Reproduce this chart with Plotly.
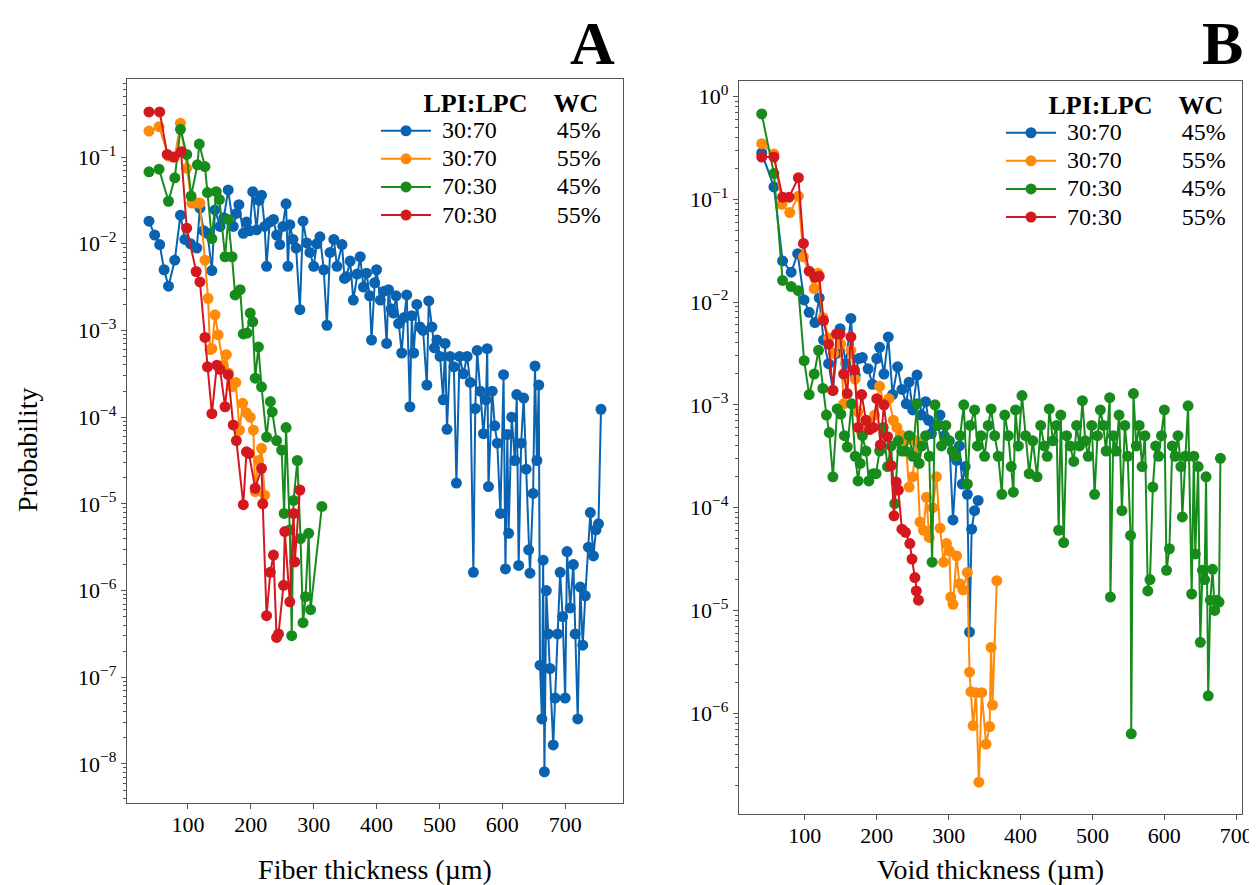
import plotly.graph_objects as go

# ---------------- data (x in µm, y given as log10(probability)) ----------------
series_names = ["30:70", "30:70", "70:30", "70:30"]
series_wc = ["45%", "55%", "45%", "55%"]
colors = ["#0a63b1", "#ff8a0a", "#178c1c", "#d3181f"]

# Panel A : Fiber thickness
a_blue_x = [38, 47, 55, 62, 69, 79, 88, 95, 104, 114, 119, 125, 131, 138, 143, 151, 157, 164, 172, 177,
            181, 188, 193, 198, 203, 209, 213, 217, 222, 225, 230, 236, 241, 246, 251, 256, 259, 262, 267, 272,
            278, 283, 289, 294, 300, 305, 310, 316, 321, 326, 332, 337, 345, 349, 352, 358, 363, 369, 374, 379,
            384, 389, 392, 397, 400, 406, 411, 416, 419, 423, 427, 431, 435, 440, 444, 448, 453, 456, 459, 464,
            469, 474, 480, 483, 488, 492, 496, 501, 506, 509, 512, 517, 523, 527, 532, 538, 544, 549, 554, 557,
            560, 565, 570, 574, 576, 578, 584, 588, 592, 597, 602, 605, 608, 610, 615, 620, 623, 626, 630, 634,
            638, 642, 644, 649, 652, 655, 658, 660, 663, 665, 667, 670, 673, 676, 681, 684, 688, 692, 696, 700,
            703, 708, 713, 716, 720, 724, 728, 732, 737, 740, 745, 749, 753, 757]
a_blue_logy = [-1.74, -1.90, -2.01, -2.30, -2.49, -2.19, -1.67, -1.95, -2.00, -2.05, -1.59, -1.85, -1.88, -2.31, -1.61, -1.80, -1.70, -1.38, -1.80, -1.65,
               -1.55, -1.88, -1.75, -1.85, -1.40, -1.84, -1.50, -1.44, -1.80, -2.26, -1.75, -1.72, -1.90, -2.01, -1.80, -1.54, -2.26, -1.78, -1.95, -2.05,
               -2.76, -1.74, -1.99, -2.10, -2.26, -2.00, -1.92, -2.30, -2.94, -2.10, -1.95, -2.26, -2.01, -2.40, -2.38, -2.20, -2.65, -2.35, -2.15, -2.50,
               -2.34, -2.60, -3.11, -2.45, -2.30, -2.65, -2.55, -3.15, -2.53, -2.75, -2.80, -2.60, -2.92, -3.26, -2.85, -2.59, -3.88, -2.83, -3.26, -2.70,
               -2.96, -3.00, -3.63, -2.66, -2.96, -3.20, -3.11, -3.30, -3.80, -3.15, -4.14, -3.30, -3.42, -4.76, -3.30, -3.50, -3.30, -3.60, -5.79, -3.90,
               -3.23, -3.70, -4.19, -3.80, -3.21, -4.80, -3.70, -4.10, -4.30, -5.11, -3.51, -5.75, -4.20, -5.34, -4.00, -4.50, -3.74, -5.71, -4.30, -3.78,
               -4.60, -5.53, -5.80, -4.88, -3.41, -4.50, -3.63, -6.86, -7.48, -5.65, -8.09, -6.00, -6.50, -6.90, -7.78, -7.24, -6.50, -5.79, -6.30, -7.24,
               -5.55, -6.20, -5.70, -6.50, -7.48, -5.96, -6.63, -6.06, -5.50, -5.10, -5.60, -5.30, -5.23, -3.91]

a_orange_x = [38, 54, 69, 79, 88, 98, 106, 114, 119, 127, 132, 135, 138, 143, 148, 156, 161, 164, 170, 176,
              182, 187, 193, 199, 204, 207, 212, 217, 222]
a_orange_logy = [-0.70, -0.65, -0.99, -1.00, -0.61, -1.13, -1.53, -1.53, -1.53, -2.19, -2.63, -3.22, -3.21, -2.82, -3.05, -3.40, -3.28, -3.49, -3.65, -3.60,
                 -4.15, -3.84, -3.95, -4.00, -4.15, -4.86, -4.50, -4.36, -4.90]

a_green_x = [38, 54, 69, 79, 88, 98, 105, 115, 118, 127, 131, 138, 145, 150, 159, 164, 170, 175, 183, 188,
             194, 199, 203, 207, 212, 217, 225, 231, 234, 241, 249, 253, 256, 262, 265, 268, 274, 279, 283, 287,
             292, 295, 313]
a_green_logy = [-1.17, -1.14, -1.51, -1.24, -0.68, -0.97, -1.45, -1.09, -0.85, -1.11, -1.41, -1.94, -1.40, -1.49, -2.15, -1.72, -2.15, -2.59, -2.53, -3.04,
                -3.03, -2.80, -2.90, -3.55, -3.19, -3.65, -4.23, -3.82, -3.94, -4.27, -4.38, -5.11, -4.12, -5.30, -6.52, -4.96, -4.50, -5.40, -6.37, -6.07,
                -5.34, -6.22, -5.03]

a_red_x = [38, 55, 67, 77, 89, 98, 113, 119, 127, 131, 138, 146, 151, 159, 164, 172, 177, 188, 193, 197,
           207, 217, 219, 225, 231, 236, 241, 244, 252, 254, 262, 268, 270, 278]
a_red_logy = [-0.48, -0.48, -0.97, -1.00, -0.94, -1.82, -2.32, -2.44, -3.08, -3.42, -3.96, -3.40, -3.45, -3.88, -3.51, -4.09, -4.27, -5.01, -4.40, -4.42,
              -4.82, -4.59, -5.00, -6.29, -5.79, -5.59, -6.54, -6.50, -5.94, -5.32, -6.13, -5.11, -5.67, -4.84]

# Panel B : Void thickness
b_blue_x = [40, 57, 69, 81, 90, 99, 106, 114, 120, 126, 133, 139, 144, 149, 157, 164, 170, 175, 180, 188,
            194, 200, 204, 210, 216, 222, 229, 235, 241, 245, 250, 256, 262, 268, 272, 276, 282, 288, 294, 301,
            306, 311, 315, 319, 323, 326, 329, 332, 336, 341]
b_blue_logy = [-0.55, -0.88, -1.60, -1.71, -1.53, -1.98, -2.10, -2.20, -1.96, -2.37, -2.60, -2.86, -2.50, -2.26, -2.60, -2.16, -2.71, -2.55, -2.54, -2.65,
               -2.80, -2.55, -2.44, -2.70, -2.34, -2.90, -2.63, -2.85, -2.99, -2.78, -3.05, -2.71, -3.10, -2.97, -3.15, -3.28, -3.20, -3.10, -3.30, -3.35,
               -4.12, -3.54, -3.40, -3.77, -3.60, -3.87, -5.21, -4.21, -4.03, -3.93]

b_orange_x = [40, 57, 68, 79, 91, 98, 113, 118, 125, 133, 140, 150, 154, 164, 170, 174, 179, 185, 190, 197,
              204, 210, 217, 223, 228, 233, 240, 245, 250, 255, 260, 265, 269, 273, 278, 283, 288, 293, 297, 301,
              303, 306, 311, 315, 320, 326, 329, 331, 334, 338, 342, 346, 352, 357, 359, 361, 367]
b_orange_logy = [-0.46, -0.56, -1.05, -1.13, -0.97, -1.56, -1.87, -1.72, -2.15, -2.35, -2.50, -2.41, -2.99, -2.47, -2.75, -3.07, -3.27, -3.15, -3.20, -3.10,
                 -2.82, -3.00, -2.94, -3.15, -3.22, -3.29, -3.35, -3.80, -3.70, -3.35, -4.14, -4.22, -3.90, -4.29, -4.00, -3.70, -4.20, -4.53, -4.35, -4.42,
                 -4.87, -4.94, -4.47, -4.74, -4.80, -4.63, -5.60, -5.79, -6.12, -5.80, -6.67, -5.80, -6.30, -6.13, -5.36, -5.92, -4.71]

b_green_x = [40, 57, 69, 81, 91, 99, 106, 113, 119, 125, 130, 134, 139, 145, 150, 155, 159, 165, 170, 174,
             177, 180, 185, 189, 195, 199, 204, 209, 215, 220, 225, 230, 235, 240, 245, 250, 256, 259, 263, 268,
             273, 277, 281, 285, 290, 296, 300, 305, 310, 316, 321, 326, 330, 336, 340, 345, 350, 355, 359, 364,
             369, 374, 378, 383, 387, 390, 393, 397, 402, 407, 412, 417, 423, 428, 433, 437, 440, 445, 450, 453,
             456, 460, 464, 469, 474, 478, 482, 486, 490, 494, 499, 503, 507, 511, 515, 519, 524, 525, 529, 533,
             537, 541, 545, 549, 553, 554, 557, 561, 565, 569, 573, 577, 580, 584, 588, 592, 596, 600, 603, 607,
             611, 615, 619, 623, 625, 629, 633, 638, 641, 643, 647, 650, 653, 656, 658, 661, 664, 667, 670, 673,
             676, 678]
b_green_logy = [-0.17, -0.75, -1.79, -1.85, -1.89, -2.57, -2.90, -2.70, -2.47, -2.84, -3.10, -3.27, -3.70, -3.04, -3.09, -3.30, -3.41, -2.99, -3.50, -3.74,
                -3.57, -3.30, -3.45, -3.74, -3.67, -3.67, -3.45, -3.22, -3.60, -3.40, -3.96, -3.35, -3.45, -3.45, -3.30, -3.50, -2.99, -3.57, -3.40, -3.30,
                -3.50, -4.53, -3.00, -3.20, -3.40, -3.20, -3.35, -3.45, -3.50, -3.30, -3.00, -3.77, -3.20, -3.05, -3.40, -3.30, -3.50, -3.20, -3.04, -3.30,
                -3.50, -3.87, -3.10, -3.30, -3.60, -3.85, -3.05, -3.40, -2.91, -3.30, -3.67, -3.35, -3.70, -3.20, -3.40, -3.50, -3.04, -3.35, -3.20, -4.22,
                -3.10, -4.34, -3.30, -3.40, -3.55, -3.20, -3.40, -2.96, -3.35, -3.50, -3.20, -3.87, -3.30, -3.05, -3.20, -3.45, -2.93, -4.87, -3.30, -3.45,
                -3.10, -4.03, -3.20, -3.50, -4.27, -6.20, -2.89, -3.40, -3.20, -3.60, -3.30, -4.81, -4.70, -3.80, -3.40, -3.50, -3.30, -3.05, -4.61, -4.40,
                -3.40, -3.50, -3.30, -3.60, -4.09, -3.50, -3.01, -4.84, -3.50, -4.45, -3.60, -5.31, -4.61, -4.70, -3.70, -5.83, -4.90, -4.60, -5.00, -4.90,
                -4.92, -3.52]

b_red_x = [40, 57, 69, 78, 91, 98, 106, 114, 120, 126, 133, 139, 144, 149, 154, 159, 164, 169, 174, 179,
           185, 190, 195, 200, 205, 210, 215, 220, 224, 227, 230, 235, 240, 246, 249, 253, 255, 258]
b_red_logy = [-0.59, -0.59, -0.98, -0.98, -0.79, -1.43, -1.70, -1.76, -1.75, -2.18, -2.41, -2.86, -2.31, -2.31, -2.70, -2.89, -2.34, -2.66, -3.22, -2.90,
              -3.15, -3.24, -3.22, -2.94, -3.39, -3.00, -3.31, -3.59, -4.08, -3.75, -3.83, -4.21, -4.24, -4.35, -4.50, -4.68, -4.81, -4.90]

a_x_ticks = [100, 200, 300, 400, 500, 600, 700]
b_x_ticks = [100, 200, 300, 400, 500, 600, 700]
a_y_exponents = [-1, -2, -3, -4, -5, -6, -7, -8]
b_y_exponents = [0, -1, -2, -3, -4, -5, -6]

FONT = "Liberation Serif"
NB = "\u00a0"

# page body has an 8 px margin: figure is laid out in screen pixels minus that offset
W, H, OFF = 1249, 877, 8


def px(x):
    return (x - OFF) / W


def py(y):
    return 1 - (y - OFF) / H


panel_a = [(a_blue_x, a_blue_logy), (a_orange_x, a_orange_logy), (a_green_x, a_green_logy), (a_red_x, a_red_logy)]
panel_b = [(b_blue_x, b_blue_logy), (b_orange_x, b_orange_logy), (b_green_x, b_green_logy), (b_red_x, b_red_logy)]

fig = go.Figure()
for panel, (xa, ya, leg) in [(panel_a, ("x", "y", "legend")), (panel_b, ("x2", "y2", "legend2"))]:
    for i, (xs, ly) in enumerate(panel):
        fig.add_trace(go.Scatter(
            x=xs, y=[10 ** v for v in ly], mode="lines+markers",
            name='<span style="font-size:24px">' + NB + series_names[i] + NB * 10 + series_wc[i] + "</span>",
            line=dict(color=colors[i], width=2),
            marker=dict(color=colors[i], size=11),
            xaxis=xa, yaxis=ya, legend=leg,
        ))


def minor_vals(lo, hi):
    out = []
    for e in range(lo, hi + 1):
        for m in range(2, 10):
            out.append(m * 10.0 ** e)
    return out


def sup_label(e):
    s = str(e).replace("-", "\u2212")
    return "10<sup>" + s + "</sup>"


axis_common = dict(showline=True, mirror=True, linecolor="#555555", linewidth=1.3,
                   showgrid=False, zeroline=False, ticks="outside", ticklen=5, tickwidth=1,
                   tickcolor="#555555", tickfont=dict(family=FONT, size=22, color="black"))

legend_title = '<span style="font-size:26px"><b>' + NB * 7 + "LPI:LPC" + NB * 4 + "WC</b></span>"
legend_common = dict(xanchor="left", yanchor="top", bgcolor="rgba(255,255,255,0)", borderwidth=0,
                     font=dict(family=FONT, size=19.3, color="black"), tracegroupgap=0, itemwidth=50,
                     title=dict(text=legend_title, font=dict(family=FONT, size=29, color="black"), side="top"))

fig.update_layout(
    width=W, height=H, autosize=False,
    margin=dict(l=0, r=0, t=0, b=0, autoexpand=False),
    paper_bgcolor="white", plot_bgcolor="white",
    font=dict(family=FONT, color="black"),
    xaxis=dict(domain=[px(127), px(623)], range=[3, 792], anchor="y",
               tickvals=a_x_ticks, automargin=False, ticklabelstandoff=-4, ticklabeloverflow="allow",
               title=dict(text="Fiber thickness (µm)", font=dict(family=FONT, size=28), standoff=29),
               **axis_common),
    yaxis=dict(type="log", domain=[py(803), py(79)], range=[-8.45, -0.10], anchor="x",
               tickvals=[10.0 ** e for e in a_y_exponents], ticktext=[sup_label(e) for e in a_y_exponents],
               minor=dict(tickvals=minor_vals(-9, 0), ticks="outside", ticklen=3, tickcolor="#555555"),
               automargin=False, ticklabeloverflow="allow",
               **axis_common),
    xaxis2=dict(domain=[px(739), px(1242)], range=[8.4, 708], anchor="y2",
                tickvals=b_x_ticks, automargin=False, ticklabelstandoff=-4, ticklabeloverflow="allow",
                title=dict(text="Void thickness (µm)", font=dict(family=FONT, size=28), standoff=29),
                **axis_common),
    yaxis2=dict(type="log", domain=[py(814), py(81)], range=[-6.98, 0.15], anchor="x2",
                tickvals=[10.0 ** e for e in b_y_exponents], ticktext=[sup_label(e) for e in b_y_exponents],
                minor=dict(tickvals=minor_vals(-8, 0), ticks="outside", ticklen=3, tickcolor="#555555"),
                automargin=False, ticklabeloverflow="allow",
                **axis_common),
    legend=dict(x=px(376), y=py(74), **legend_common),
    legend2=dict(x=px(1001), y=py(76), **legend_common),
    annotations=[
        dict(text="Probability", x=px(28), y=py(450), xref="paper", yref="paper",
             xanchor="center", yanchor="middle", textangle=-90,
             showarrow=False, font=dict(family=FONT, size=28, color="black")),
        dict(text="<b>A</b>", x=px(592), y=py(43), xref="paper", yref="paper",
             xanchor="center", yanchor="middle",
             showarrow=False, font=dict(family=FONT, size=62, color="black")),
        dict(text="<b>B</b>", x=px(1222), y=py(43), xref="paper", yref="paper",
             xanchor="center", yanchor="middle",
             showarrow=False, font=dict(family=FONT, size=62, color="black")),
    ],
)

fig.write_html("out.html")
